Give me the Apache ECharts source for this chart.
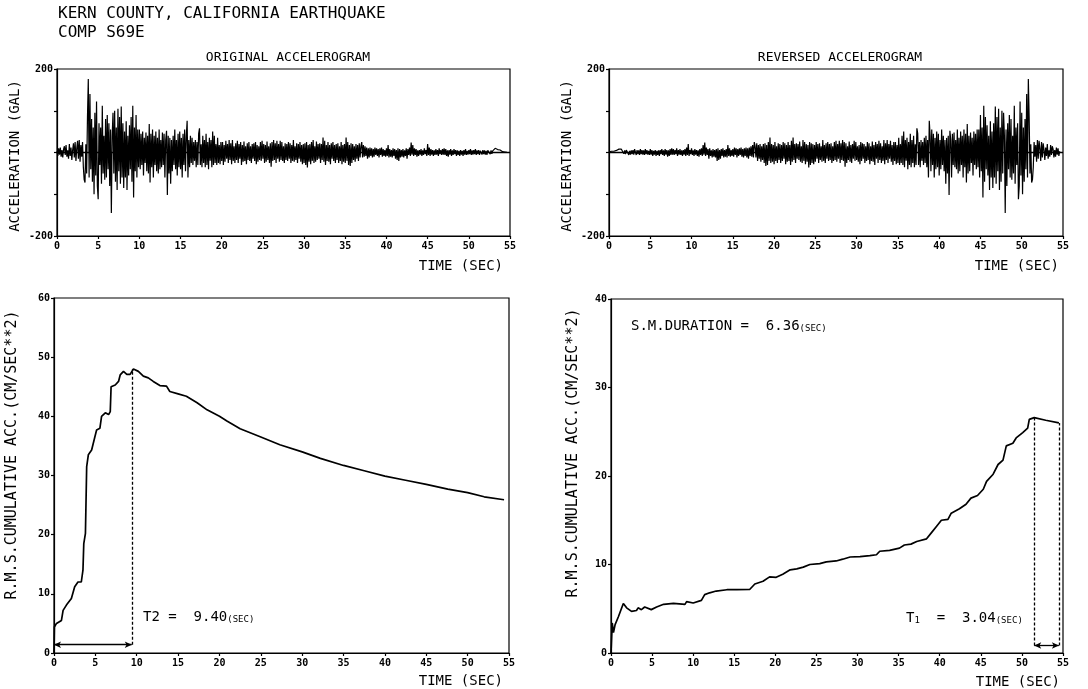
<!DOCTYPE html>
<html><head><meta charset="utf-8">
<script src="https://cdn.jsdelivr.net/npm/echarts@6/dist/echarts.min.js"></script>
<style>html,body{margin:0;padding:0;background:#fff}#c{width:1088px;height:689px}</style>
</head><body><div id="c"></div>
<script>
// ---------------- DATA ----------------
const accDt = 0.1; // sampling step of the digitised accelerogram (sec)
// original accelerogram (gal), 10 samples per second
const accOriginal = [
  3,-8,10,-5,12,-10,6,-12,8,15,
  -6,18,-10,5,-15,20,-8,12,-18,6,
  22,-12,25,-20,10,28,-15,30,-22,18,
  -10,25,-35,-65,-72,20,-50,85,176,-60,
  140,-40,80,-70,60,-100,95,-55,122,-80,
  -112,70,-30,60,-75,112,-50,40,-65,80,
  -60,90,-40,70,-80,55,-145,40,95,-50,
  100,-70,60,-90,105,-45,85,-75,110,-60,
  70,-85,50,-60,75,-90,40,-55,65,-40,
  85,-70,112,-108,60,-45,90,-60,55,-35,
  55,-40,45,-30,50,-55,35,-25,48,-45,
  40,-50,68,-72,45,-35,55,-60,40,-30,
  50,-45,35,-50,55,-40,30,-35,48,-30,
  45,-60,30,52,-102,40,-50,35,-75,30,
  -45,40,-30,55,-40,30,-55,45,-35,50,
  -40,35,-60,45,-30,55,-45,40,76,-60,
  30,-35,40,-25,35,-30,25,-20,30,-35,
  25,-30,45,58,-30,20,-35,40,-25,30,
  -35,45,-30,25,-40,35,-20,30,-35,50,
  -30,40,-25,20,-30,35,-25,18,-28,25,
  -20,25,-30,18,-22,28,-15,20,-25,30,
  -18,22,-28,30,-20,15,-25,22,-18,28,
  -25,20,-15,25,-30,18,-22,26,-20,15,
  -28,22,-18,25,-20,15,-25,20,-15,22,
  -20,25,-28,18,-22,15,-18,25,-20,28,
  -15,20,-25,18,-22,26,-18,15,-25,22,
  -34,25,-20,30,-18,22,-25,28,-15,20,
  -22,28,-18,25,-20,15,-25,22,-18,20,
  -20,25,-15,22,-25,18,-20,30,-22,15,
  -18,22,-25,20,-15,25,-22,18,-28,20,
  -25,22,-30,25,-36,18,-22,20,-28,25,
  -20,30,-25,15,-22,26,-18,20,-15,22,
  -25,20,-18,36,-22,28,-30,18,-20,25,
  -22,18,-28,22,-15,25,-20,18,-25,20,
  -18,22,-25,15,-20,25,-28,18,-22,20,
  -25,36,-20,25,-30,18,-32,22,-25,20,
  -18,15,-22,20,-15,18,-20,22,-12,15,
  25,-12,18,-10,15,-8,12,-15,10,-12,
  12,-8,10,-12,8,-10,12,-6,10,-8,
  8,-12,10,-6,12,-10,8,-8,6,-10,
  10,-8,18,-12,8,-10,6,-12,10,-8,
  8,-15,6,-18,10,-20,8,-12,6,-10,
  8,-12,5,-8,10,-15,8,-6,12,-8,
  24,-5,18,-8,10,-6,8,-10,5,-8,
  6,-5,8,-8,5,-6,10,-4,6,-8,
  20,-6,12,-8,8,-5,6,-8,5,-6,
  8,-5,6,-8,10,-4,6,-6,8,-5,
  10,-6,8,-8,5,-10,6,-5,8,-8,
  5,-6,8,-4,6,-8,5,-6,4,-8,
  6,-5,4,-8,6,-5,8,-6,4,-5,
  6,-4,8,-6,5,-5,6,-4,8,-6,
  5,-4,6,-6,4,8,-5,6,-4,5,
  -5,4,-6,5,2,6,-4,5,-3,4,
  6,8,10,9,8,7,6,5,6,4,
  3,2,2,3,1,2,1
];
// reversed accelerogram = original record played backwards
const accReversed = accOriginal.slice().reverse();

// R.M.S. cumulative acceleration (cm/sec**2) : [time, value]
const rmsOriginal = [
  [0,0],[0.05,4.4],[0.3,5.0],[0.9,5.5],[1.1,7.2],[1.5,8.1],[2.1,9.2],[2.5,11.2],[2.9,12],[3.3,12],
  [3.5,14],[3.6,18.5],[3.8,20.2],[3.95,31.5],[4.15,33.5],[4.55,34.3],[4.9,36.3],[5.15,37.7],[5.55,38],
  [5.75,40],[6.2,40.6],[6.6,40.3],[6.8,40.8],[6.9,45],[7.4,45.3],[7.8,45.9],[8.0,47],[8.4,47.6],
  [8.8,47.1],[9.2,47.1],[9.6,48],[10.2,47.6],[10.8,46.8],[11.4,46.5],[12.0,45.9],[12.8,45.2],
  [13.6,45.1],[14.0,44.2],[15,43.8],[16,43.4],[17.3,42.3],[18.5,41.1],[20,40],[20.9,39.2],
  [22.5,37.9],[25,36.5],[27.3,35.2],[30,34],[32.2,32.9],[35,31.7],[37.5,30.8],[40,29.9],
  [42.5,29.2],[45,28.5],[47.6,27.7],[50,27.1],[52,26.4],[54.4,25.9]
];
const rmsReversed = [
  [0,0],[0.15,3.4],[0.3,2.3],[0.5,3.2],[0.9,4.1],[1.5,5.6],[1.9,5.1],[2.5,4.7],[3.1,4.8],[3.3,5.1],
  [3.7,4.9],[4.1,5.2],[4.9,4.9],[5.55,5.2],[6.4,5.5],[7.6,5.6],[9.0,5.5],[9.2,5.8],[10,5.65],
  [11,5.95],[11.4,6.6],[12,6.8],[12.8,7.0],[14.1,7.15],[15.3,7.15],[16.9,7.2],[17.5,7.8],[18.5,8.1],
  [19.3,8.6],[20.1,8.55],[20.9,8.9],[21.8,9.4],[22.6,9.5],[23.4,9.7],[24.2,10],[25.4,10.1],
  [26.2,10.3],[27.4,10.4],[28.2,10.6],[29.1,10.85],[30.3,10.9],[31.5,11],[32.3,11.1],[32.7,11.5],
  [33.9,11.6],[35.1,11.85],[35.7,12.2],[36.5,12.3],[37.2,12.6],[38.4,12.9],[39,13.6],[39.6,14.3],
  [40.2,15],[41,15.1],[41.4,15.8],[42.4,16.3],[43.2,16.8],[43.8,17.5],[44.6,17.8],[45.3,18.5],
  [45.7,19.4],[46.5,20.2],[47.1,21.3],[47.7,21.8],[48.1,23.4],[48.9,23.7],[49.3,24.3],[50.1,24.9],
  [50.7,25.4],[50.9,26.4],[51.5,26.6],[52.9,26.3],[54.5,26.0]
];
// duration markers
const t2Time = 9.4, t2Peak = 48, t2ArrowLevel = 1.4;
const t1Start = 51.5, t1StartPeak = 26.6, t1End = 54.5, t1EndPeak = 26.0, t1ArrowLevel = 0.85;
const accTickLabels = [-200, 200];

// ---------------- CHART ----------------
const FONT = "'DejaVu Sans Mono', monospace";
const chart = echarts.init(document.getElementById('c'), null, {renderer: 'canvas'});
const accOrigPts = accOriginal.map((v, i) => [i * accDt, v]);
const accRevPts = accReversed.map((v, i) => [i * accDt, v]);

function xAx(gi) {
  return {
    type: 'value', gridIndex: gi, min: 0, max: 55, interval: 5,
    axisLine: {onZero: false, lineStyle: {color: '#000', width: 1.2}},
    axisTick: {length: 3, lineStyle: {color: '#000', width: 1.2}},
    axisLabel: {color: '#000', fontSize: 10, fontWeight: 'bold', fontFamily: FONT, margin: 5},
    splitLine: {show: false}
  };
}
function yAx(gi, min, max, interval, fmt) {
  return {
    type: 'value', gridIndex: gi, min: min, max: max, interval: interval,
    axisLine: {show: true, lineStyle: {color: '#000', width: 1.2}},
    axisTick: {show: true, length: 3, lineStyle: {color: '#000', width: 1.2}},
    axisLabel: {color: '#000', fontSize: 10, fontWeight: 'bold', fontFamily: FONT, margin: 4, formatter: fmt},
    splitLine: {show: false}
  };
}
const accFmt = v => accTickLabels.indexOf(v) >= 0 ? String(v) : '';
const zeroLine = {
  silent: true, symbol: 'none', label: {show: false},
  lineStyle: {color: '#000', width: 1.3, type: 'solid'},
  data: [{yAxis: 0}]
};
const gridBase = {show: true, borderColor: '#000', borderWidth: 1.2, backgroundColor: 'transparent'};
const richBig = {fontSize: 14, lineHeight: 16, fontFamily: FONT, fill: '#000', verticalAlign: 'bottom'};
const richSmall = {fontSize: 9, lineHeight: 11, fontFamily: FONT, fill: '#000', verticalAlign: 'bottom'};

const option = {
  animation: false,
  backgroundColor: '#fff',
  grid: [
    Object.assign({left: 57, top: 69, width: 453, height: 167}, gridBase),
    Object.assign({left: 609, top: 69, width: 454, height: 167}, gridBase),
    Object.assign({left: 54, top: 298, width: 455, height: 355}, gridBase),
    Object.assign({left: 611, top: 299, width: 452, height: 354}, gridBase)
  ],
  xAxis: [xAx(0), xAx(1), xAx(2), xAx(3)],
  yAxis: [
    yAx(0, -200, 200, 100, accFmt),
    yAx(1, -200, 200, 100, accFmt),
    yAx(2, 0, 60, 10),
    yAx(3, 0, 40, 10)
  ],
  series: [
    {type: 'line', xAxisIndex: 0, yAxisIndex: 0, data: accOrigPts, symbol: 'none',
     lineStyle: {color: '#000', width: 1.2}, markLine: zeroLine},
    {type: 'line', xAxisIndex: 1, yAxisIndex: 1, data: accRevPts, symbol: 'none',
     lineStyle: {color: '#000', width: 1.2}, markLine: zeroLine},
    {type: 'line', xAxisIndex: 2, yAxisIndex: 2, data: rmsOriginal, symbol: 'none',
     lineStyle: {color: '#000', width: 1.7},
     markLine: {
       silent: true, label: {show: false}, animation: false,
       data: [
         [{coord: [t2Time, t2ArrowLevel], symbol: 'none', lineStyle: {type: [3, 2], width: 1.3, color: '#000'}},
          {coord: [t2Time, t2Peak], symbol: 'none'}],
         [{coord: [0, t2ArrowLevel], symbol: 'arrow', symbolSize: [5, 7], lineStyle: {type: 'solid', width: 1.3, color: '#000'}},
          {coord: [t2Time, t2ArrowLevel], symbol: 'arrow', symbolSize: [5, 7]}]
       ]
     }},
    {type: 'line', xAxisIndex: 3, yAxisIndex: 3, data: rmsReversed, symbol: 'none',
     lineStyle: {color: '#000', width: 1.7},
     markLine: {
       silent: true, label: {show: false}, animation: false,
       data: [
         [{coord: [t1Start, t1ArrowLevel], symbol: 'none', lineStyle: {type: [3, 2], width: 1.3, color: '#000'}},
          {coord: [t1Start, t1StartPeak], symbol: 'none'}],
         [{coord: [t1End, t1ArrowLevel], symbol: 'none', lineStyle: {type: [3, 2], width: 1.3, color: '#000'}},
          {coord: [t1End, t1EndPeak], symbol: 'none'}],
         [{coord: [t1Start, t1ArrowLevel], symbol: 'arrow', symbolSize: [5, 7], lineStyle: {type: 'solid', width: 1.3, color: '#000'}},
          {coord: [t1End, t1ArrowLevel], symbol: 'arrow', symbolSize: [5, 7]}]
       ]
     }}
  ],
  graphic: [
    {type: 'text', x: 58, y: 14, style: {text: 'KERN COUNTY, CALIFORNIA EARTHQUAKE', fontSize: 16, fontFamily: FONT, fill: '#000', textVerticalAlign: 'middle'}},
    {type: 'text', x: 58, y: 33, style: {text: 'COMP S69E', fontSize: 16, fontFamily: FONT, fill: '#000', textVerticalAlign: 'middle'}},
    {type: 'text', x: 288, y: 58, style: {text: 'ORIGINAL ACCELEROGRAM', fontSize: 13, fontFamily: FONT, fill: '#000', textAlign: 'center', textVerticalAlign: 'middle'}},
    {type: 'text', x: 840, y: 58, style: {text: 'REVERSED ACCELEROGRAM', fontSize: 13, fontFamily: FONT, fill: '#000', textAlign: 'center', textVerticalAlign: 'middle'}},
    // axis names
    {type: 'text', x: 15, y: 156, rotation: Math.PI / 2, style: {text: 'ACCELERATION (GAL)', fontSize: 14, fontFamily: FONT, fill: '#000', textAlign: 'center', textVerticalAlign: 'middle'}},
    {type: 'text', x: 567, y: 156, rotation: Math.PI / 2, style: {text: 'ACCELERATION (GAL)', fontSize: 14, fontFamily: FONT, fill: '#000', textAlign: 'center', textVerticalAlign: 'middle'}},
    {type: 'text', x: 12, y: 455, rotation: Math.PI / 2, style: {text: 'R.M.S.CUMULATIVE ACC.(CM/SEC**2)', fontSize: 15, fontFamily: FONT, fill: '#000', textAlign: 'center', textVerticalAlign: 'middle'}},
    {type: 'text', x: 573, y: 453, rotation: Math.PI / 2, style: {text: 'R.M.S.CUMULATIVE ACC.(CM/SEC**2)', fontSize: 15, fontFamily: FONT, fill: '#000', textAlign: 'center', textVerticalAlign: 'middle'}},
    {type: 'text', x: 503, y: 266, style: {text: 'TIME (SEC)', fontSize: 14, fontFamily: FONT, fill: '#000', textAlign: 'right', textVerticalAlign: 'middle'}},
    {type: 'text', x: 1059, y: 266, style: {text: 'TIME (SEC)', fontSize: 14, fontFamily: FONT, fill: '#000', textAlign: 'right', textVerticalAlign: 'middle'}},
    {type: 'text', x: 503, y: 681, style: {text: 'TIME (SEC)', fontSize: 14, fontFamily: FONT, fill: '#000', textAlign: 'right', textVerticalAlign: 'middle'}},
    {type: 'text', x: 1060, y: 682, style: {text: 'TIME (SEC)', fontSize: 14, fontFamily: FONT, fill: '#000', textAlign: 'right', textVerticalAlign: 'middle'}},
    // annotations
    {type: 'text', x: 143, y: 616, style: {text: '{a|T2 =  9.40}{b|(SEC)}', fill: '#000', textVerticalAlign: 'middle',
      rich: {a: richBig, b: richSmall}}},
    {type: 'text', x: 631, y: 325, style: {text: '{a|S.M.DURATION =  6.36}{b|(SEC)}', fill: '#000', textVerticalAlign: 'middle',
      rich: {a: richBig, b: richSmall}}},
    {type: 'text', x: 906, y: 617, style: {text: '{a|T}{s|1}{a|  =  3.04}{b|(SEC)}', fill: '#000', textVerticalAlign: 'middle',
      rich: {a: richBig, s: richSmall, b: richSmall}}}
  ]
};
chart.setOption(option);
</script>
</body></html>
